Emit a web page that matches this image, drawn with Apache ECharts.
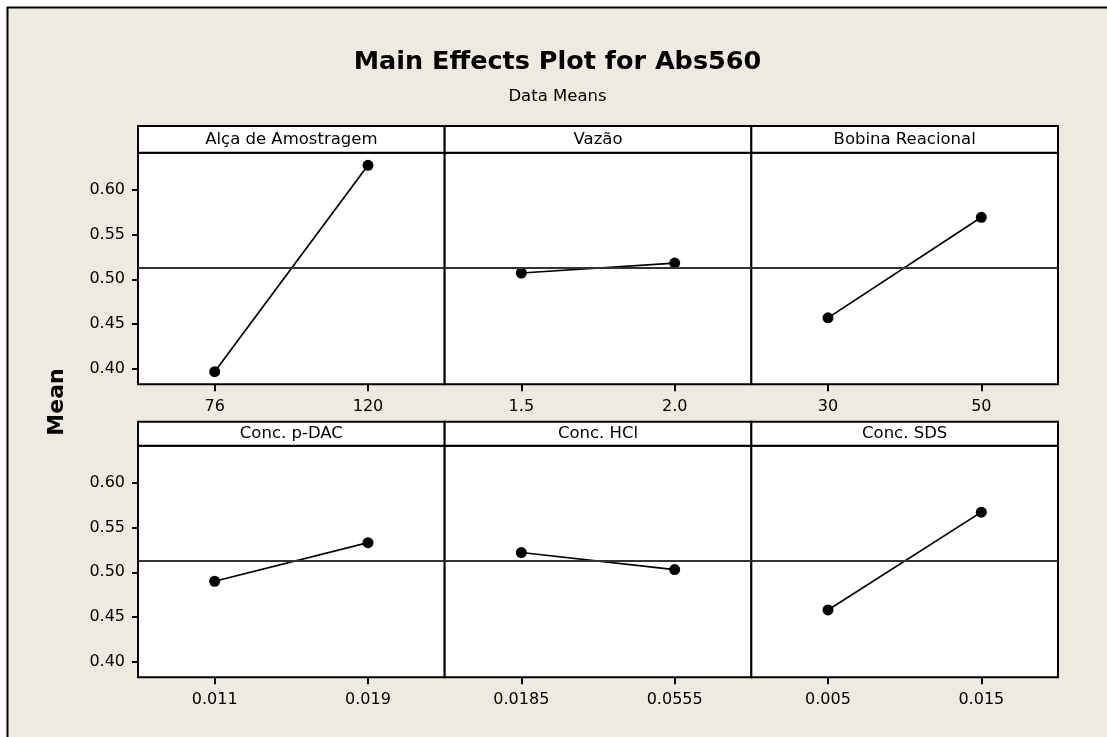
<!DOCTYPE html>
<html>
<head>
<meta charset="utf-8">
<script src="https://cdn.jsdelivr.net/npm/echarts@6/dist/echarts.min.js"></script>
<style>html,body{margin:0;padding:0;background:#fff}#c{width:1107px;height:737px}</style>
</head>
<body>
<div id="c"></div>
<script>
const factors = ['Alça de Amostragem', 'Vazão', 'Bobina Reacional', 'Conc. p-DAC', 'Conc. HCl', 'Conc. SDS'];
const levels = [['76', '120'], ['1.5', '2.0'], ['30', '50'], ['0.011', '0.019'], ['0.0185', '0.0555'], ['0.005', '0.015']];
const means = [[0.397, 0.627], [0.507, 0.518], [0.457, 0.569], [0.490, 0.533], [0.522, 0.503], [0.458, 0.567]];
const grandMean = 0.513;
const yTicks = [0.40, 0.45, 0.50, 0.55, 0.60];

const FONT = 'DejaVu Sans';
const BG = '#EEEADF';
const panelLefts = [138, 444.67, 751.33];
const panelW = 306.67;
const rows = [
  {hTop: 126, hH: 26.7, gTop: 152.7, gH: 231.6},
  {hTop: 421.7, hH: 24, gTop: 445.7, gH: 231.6}
];

const grids = [], xAxes = [], yAxes = [], series = [], graphics = [];

// white margin + frame lines
graphics.push({type: 'rect', shape: {x: 0, y: 0, width: 1107, height: 7}, style: {fill: '#fff'}, silent: true});
graphics.push({type: 'rect', shape: {x: 0, y: 0, width: 7, height: 737}, style: {fill: '#fff'}, silent: true});
graphics.push({type: 'line', shape: {x1: 7, y1: 7.5, x2: 1107, y2: 7.5}, style: {stroke: '#000', lineWidth: 2}, silent: true});
graphics.push({type: 'line', shape: {x1: 7.5, y1: 7, x2: 7.5, y2: 737}, style: {stroke: '#000', lineWidth: 2}, silent: true});

graphics.push({type: 'text', x: 557.5, y: 62, style: {text: 'Main Effects Plot for Abs560', font: 'bold 25.5px "' + FONT + '"', fill: '#000', align: 'center', verticalAlign: 'middle'}});
graphics.push({type: 'text', x: 557.5, y: 97, style: {text: 'Data Means', font: '16.5px "' + FONT + '"', fill: '#000', align: 'center', verticalAlign: 'middle'}});
graphics.push({type: 'text', x: 57, y: 402, rotation: Math.PI / 2, style: {text: 'Mean', font: 'bold 22px "' + FONT + '"', fill: '#000', align: 'center', verticalAlign: 'middle'}});

factors.forEach((f, i) => {
  const r = Math.floor(i / 3), c = i % 3;
  const row = rows[r];
  const left = panelLefts[c];
  grids.push({left: left, top: row.gTop, width: panelW, height: row.gH, show: true, backgroundColor: '#fff', borderColor: '#000', borderWidth: 2});
  graphics.push({type: 'rect', shape: {x: left, y: row.hTop, width: panelW, height: row.hH}, style: {fill: '#fff', stroke: '#000', lineWidth: 2}});
  graphics.push({type: 'text', x: left + panelW / 2, y: row.hTop + row.hH / 2 + 0.5, style: {text: f, font: '16.5px "' + FONT + '"', fill: '#000', align: 'center', verticalAlign: 'middle'}});
  xAxes.push({
    gridIndex: i, type: 'category', data: levels[i], boundaryGap: true,
    axisLine: {show: false},
    axisTick: {show: true, alignWithLabel: true, length: 7, lineStyle: {color: '#000', width: 2}},
    axisLabel: {color: '#000', fontFamily: FONT, fontSize: 16, margin: 15},
    splitLine: {show: false}
  });
  yAxes.push({
    gridIndex: i, type: 'value', min: 0.383, max: 0.641,
    axisLine: {show: false},
    axisTick: {show: c === 0, length: 6, lineStyle: {color: '#000', width: 2}, customValues: yTicks},
    axisLabel: {show: c === 0, color: '#000', fontFamily: FONT, fontSize: 16, margin: 13, customValues: yTicks, formatter: v => v.toFixed(2)},
    splitLine: {show: false}
  });
  series.push({
    type: 'line', xAxisIndex: i, yAxisIndex: i, data: means[i],
    symbol: 'circle', symbolSize: 11, showSymbol: true,
    lineStyle: {color: '#000', width: 1.7}, itemStyle: {color: '#000'},
    animation: false,
    markLine: {silent: true, symbol: 'none', precision: 4, label: {show: false}, lineStyle: {color: '#333', width: 1.8, type: 'solid'}, data: [{yAxis: grandMean}], animation: false}
  });
});

const chart = echarts.init(document.getElementById('c'), null, {renderer: 'canvas'});
chart.setOption({
  backgroundColor: BG,
  animation: false,
  grid: grids, xAxis: xAxes, yAxis: yAxes, series: series,
  graphic: graphics
});
</script>
</body>
</html>
